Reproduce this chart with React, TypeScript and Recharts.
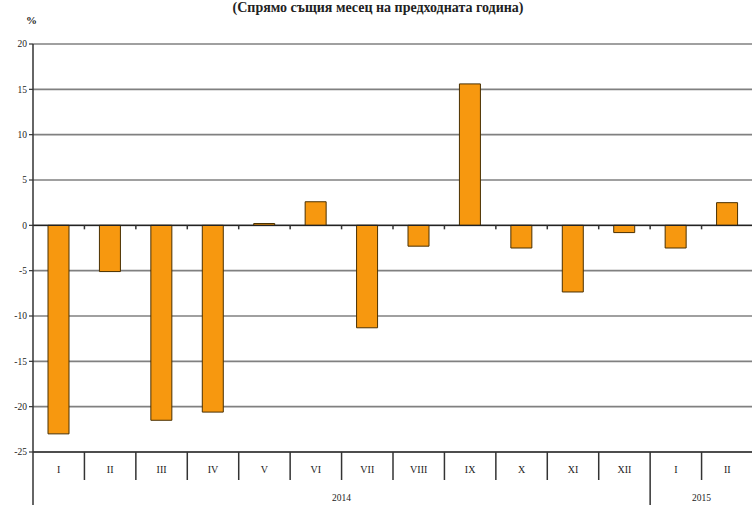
import React from 'react';
import { BarChart, Bar, XAxis, YAxis, CartesianGrid, ReferenceLine } from 'recharts';

const monthKeys = ['2014-I', '2014-II', '2014-III', '2014-IV', '2014-V', '2014-VI', '2014-VII', '2014-VIII', '2014-IX', '2014-X', '2014-XI', '2014-XII', '2015-I', '2015-II'];
const monthLabels = ['I', 'II', 'III', 'IV', 'V', 'VI', 'VII', 'VIII', 'IX', 'X', 'XI', 'XII', 'I', 'II'];
const changeValues = [-23.0, -5.1, -21.5, -20.6, 0.2, 2.6, -11.3, -2.3, 15.6, -2.5, -7.35, -0.8, -2.5, 2.5];
const years = ['2014', '2015'];
const yearMonthCounts = [12, 2];
const yTicks = [20, 15, 10, 5, 0, -5, -10, -15, -20, -25];

const titleText = '(Спрямо същия месец на предходната година)';
const unitText = '%';

const data = monthKeys.map((k, i) => ({ key: k, value: changeValues[i] }));

const yMax = Math.max(...yTicks);
const yMin = Math.min(...yTicks);

const MARGIN_TOP = 44;

const yearStarts: number[] = [];
{
  let s = 0;
  for (const c of yearMonthCounts) {
    yearStarts.push(s);
    s += c;
  }
}

const FONT = '"Liberation Serif", "DejaVu Serif", serif';

function MonthTick(props: any) {
  const { x, y, payload, index } = props;
  const off = payload && payload.offset ? payload.offset : 0;
  const left = x - off;
  const isYearStart = yearStarts.includes(index);
  // the value axis is linear between the plot top and this axis line
  const zeroY = MARGIN_TOP + ((Number(y) - MARGIN_TOP) * (yMax - 0)) / (yMax - yMin);
  const yearLabels: React.ReactNode[] = [];
  years.forEach((yr, yi) => {
    const mid = yearStarts[yi] + yearMonthCounts[yi] / 2;
    if (Number.isInteger(mid) && mid === index) {
      yearLabels.push(
        <text key={yr} x={left} y={y + 49} textAnchor="middle" fontSize={9.5} fontFamily={FONT} fill="#222">
          {yr}
        </text>
      );
    } else if (!Number.isInteger(mid) && Math.floor(mid) === index) {
      yearLabels.push(
        <text key={yr} x={x} y={y + 49} textAnchor="middle" fontSize={9.5} fontFamily={FONT} fill="#222">
          {yr}
        </text>
      );
    }
  });
  return (
    <g>
      {index > 0 && (
        <path d={`M${left},${y}L${left},${isYearStart ? y + 60 : y + 28}`} stroke="#333" strokeWidth={1.5} fill="none" />
      )}
      {index > 0 && <rect x={left - 0.75} y={zeroY} width={1.5} height={4} fill="#333" />}
      {index === 0 && <path d={`M${left},${y}L${left},${y + 60}`} stroke="#333" strokeWidth={1.5} fill="none" />}
      <text x={x} y={y + 21} textAnchor="middle" fontSize={10} fontFamily={FONT} fill="#222">
        {monthLabels[index]}
      </text>
      {yearLabels}
    </g>
  );
}

export default function App() {
  return (
    <div style={{ position: 'absolute', left: 0, top: 0, width: 752, height: 505, background: '#fff', overflow: 'hidden' }}>
      <div
        style={{
          position: 'absolute',
          left: 378,
          top: 0,
          transform: 'translateX(-50%)',
          whiteSpace: 'nowrap',
          fontFamily: FONT,
          fontWeight: 'bold',
          fontSize: 14,
          lineHeight: '16px',
          color: '#222',
        }}
      >
        {titleText}
      </div>
      <div
        style={{
          position: 'absolute',
          left: 26,
          top: 14,
          fontFamily: FONT,
          fontWeight: 'bold',
          fontSize: 11,
          color: '#222',
        }}
      >
        {unitText}
      </div>
      <BarChart
        width={753}
        height={505}
        data={data}
        margin={{ top: MARGIN_TOP, right: 0, bottom: 0, left: 0 }}
        barCategoryGap={0}
      >
        <CartesianGrid vertical={false} stroke="#808080" strokeWidth={1.7} />
        <YAxis
          width={33}
          domain={[yMin, yMax]}
          ticks={yTicks}
          interval={0}
          tickSize={4}
          tickMargin={2}
          axisLine={{ stroke: '#333', strokeWidth: 1.5 }}
          tickLine={{ stroke: '#333', strokeWidth: 1.2 }}
          tick={{ fontSize: 9.5, fontFamily: FONT, fill: '#222' }}
        />
        <XAxis
          dataKey="key"
          height={53}
          interval={0}
          tickSize={0}
          tickMargin={0}
          tickLine={false}
          axisLine={{ stroke: '#333', strokeWidth: 1.5 }}
          tick={<MonthTick />}
        />
        <ReferenceLine y={0} stroke="#222" strokeWidth={1.2} />
        <Bar dataKey="value" fill="#F7980F" stroke="#4a3000" strokeWidth={1} barSize={21} isAnimationActive={false} />
      </BarChart>
    </div>
  );
}
